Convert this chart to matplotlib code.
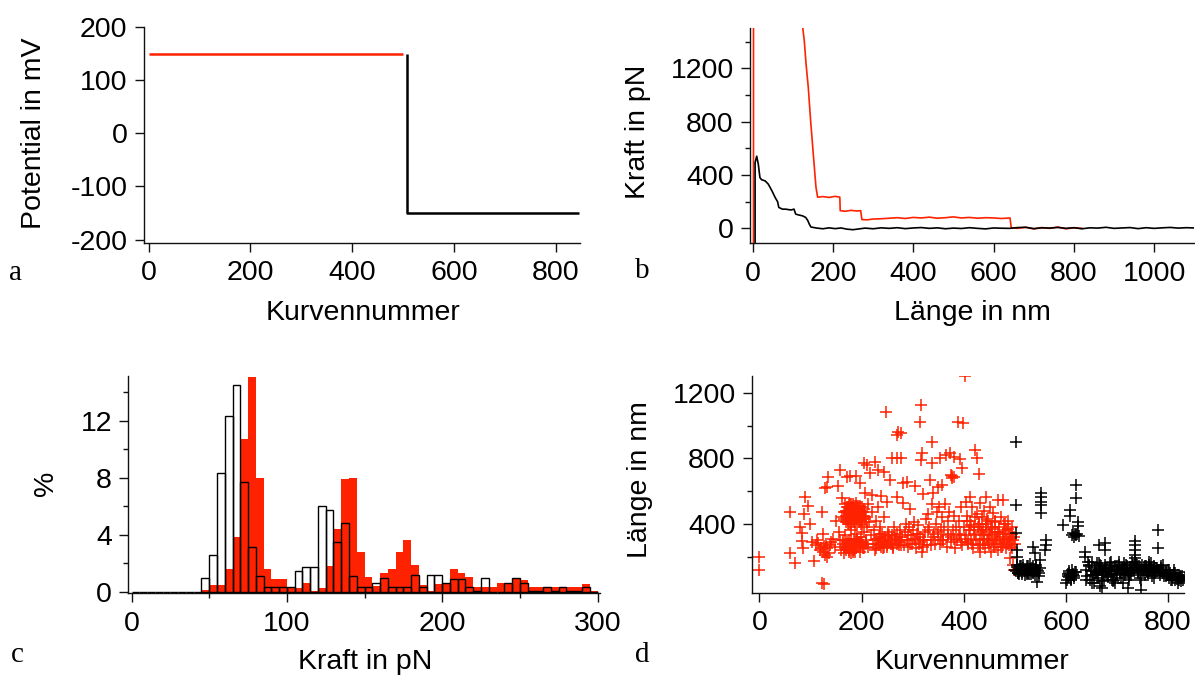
import numpy as np
import matplotlib
matplotlib.use("Agg")
import matplotlib.pyplot as plt
from matplotlib.ticker import MultipleLocator, FixedLocator

# ---------------------------------------------------------------- data
# (a) applied potential per curve number
pot_pos_n = [0, 500]
pot_pos_mv = [150, 150]
pot_neg_n = [508, 508, 846]
pot_neg_mv = [150, -150, -150]

# (b) two single force-distance retract curves
force_red_nm = [2, 2, 118, 124.5, 128.6, 133, 138.5, 144.3, 150.9, 157.6, 161.7, 175, 190, 205,
                217, 218, 230, 245, 260, 269, 272, 285, 300, 320, 340, 360, 380, 400, 420, 440,
                460, 480, 500, 520, 540, 560, 580, 600, 620, 641, 644, 660, 680, 700, 720, 740,
                760, 780, 800, 820]
force_red_pn = [-130, 1900, 1900, 1509, 1404, 1230, 1056, 807, 558, 309, 234, 238, 232, 240,
                234, 133, 128, 135, 130, 133, 66, 64, 70, 72, 76, 80, 74, 82, 78, 84,
                76, 80, 86, 78, 82, 76, 80, 78, 74, 78, 5, 0, 8, -4, 6, 0,
                10, -3, 4, 0]
force_black_nm = [6, 6, 10, 14, 18, 22, 31, 39, 48, 56, 62, 65, 70, 74, 82, 95, 103, 107, 115,
                  124, 132, 137, 141, 145, 160, 175, 190, 205, 220, 235, 250, 265, 280, 300,
                  320, 340, 360, 380, 400, 420, 440, 460, 480, 500, 520, 540, 560, 580, 600,
                  620, 640, 660, 680, 700, 720, 740, 760, 780, 800, 820, 840, 860, 880, 900,
                  920, 940, 960, 980, 1000, 1020, 1040, 1060, 1080, 1100]
force_black_pn = [-130, 493, 541, 481, 381, 365, 356, 331, 281, 231, 200, 157, 150, 144, 144,
                  138, 144, 107, 100, 94, 82, 60, 32, 10, 2, -3, 4, -2, 3, -6, -10, -4, 2, -3,
                  4, 0, 5, -2, 3, 6, 0, 4, -3, 2, -1, 5, 0, -4, 3, 1, 0, 6, 8, -2, 4, 2, 7, 0,
                  5, -3, 4, 2, 8, 0, 3, 6, -2, 5, 0, 4, 7, 2, 5, 3]

# (c) rupture force histograms, 5 pN bins from 0 to 300 pN (in %)
bin_edges = list(range(0, 300, 5))
hist_red = [0, 0, 0, 0, 0, 0, 0, 0, 0,
            0.1, 0.45, 0.45, 1.6, 3.8, 10.7, 15.1, 8.0, 1.6, 0.85, 0.85,
            0.35, 0.25, 0.6, 0.05, 0.25, 1.8, 4.4, 7.9, 8.0, 2.8,
            1.0, 0.4, 1.3, 1.6, 2.8, 3.6, 1.9, 0.45, 0.05, 0.5,
            0.55, 1.6, 1.3, 1.05, 0.35, 0.35, 0.35, 0.6, 0.6, 0.85,
            0.8, 0.3, 0.3, 0.3, 0.3, 0.3, 0.3, 0.3, 0.5, 0.05]
hist_black = [0, 0, 0, 0, 0, 0, 0, 0, 0,
              0.93, 2.6, 8.3, 12.3, 14.5, 7.7, 3.1, 1.1, 0.35, 0.35, 0.35,
              0.35, 1.45, 1.7, 1.7, 6.0, 5.7, 3.5, 4.8, 1.1, 0.35,
              0.35, 0.6, 0.95, 0.35, 0.35, 0.35, 1.15, 0.35, 1.15, 1.15,
              0.6, 0.9, 0.9, 0.35, 0.05, 0.95, 0, 0, 0.6, 0.95,
              0.6, 0.05, 0.05, 0.35, 0.05, 0.35, 0.05, 0.05, 0.35, 0]

# (d) rupture length per curve number (+150 mV: red, -150 mV: black)
red_curve = [0, 0, 60, 60, 70,
             80, 83, 83, 86, 88, 89, 96, 99, 102, 106, 110, 112, 115, 118, 120, 122, 124, 122, 127,
             125, 126, 128, 129, 130, 132, 132, 133, 135, 136, 138, 140,
             145, 148, 150, 153, 155, 157, 158, 160, 161, 162, 164, 165, 166, 168, 170, 171, 172,
             173, 174, 175, 176, 177, 178, 179, 180, 181, 182, 183, 184, 185, 186, 187, 188, 189,
             190, 190, 191, 192, 193, 194, 195, 196, 197, 198, 199, 200, 200,
             202, 204, 205, 206, 207, 207, 208, 210, 211, 212, 213, 215, 217, 218, 220, 221, 222,
             224, 226, 227, 228, 230, 232, 233, 234, 236, 238, 239, 240, 241, 243, 243, 244, 246,
             248, 249, 250, 252, 254, 256, 257, 259, 260,
             262, 264, 266, 269, 269, 269, 270, 272, 273, 275, 276, 278, 278, 280, 281, 282, 283,
             285, 286, 288, 289, 290, 292, 295, 296, 298, 300, 302, 304, 305, 307, 309, 310, 312,
             314, 315, 317, 317, 318, 319, 320, 321, 322, 324, 326,
             328, 330, 332, 334, 335, 337, 337, 338, 340, 341, 343, 345, 347, 349, 350, 352, 353,
             354, 356, 357, 358, 360, 362, 364, 366, 367, 369, 370, 372, 373, 375, 376, 377, 378,
             379, 380, 380, 381, 383, 385, 387, 389, 390, 392, 393, 395, 396, 397, 399, 400,
             402, 403, 405, 406, 408, 410, 412, 413, 415, 417, 418, 420, 422, 423, 425, 426, 427,
             429, 430, 431, 432, 432, 434, 436, 437, 439, 440, 441, 443, 444, 445, 447, 449, 450,
             452, 453, 455, 456, 458, 459, 461, 462, 464, 465, 467, 468, 470, 471, 473, 474, 476,
             477, 479, 480, 482, 483, 485, 486, 488, 490, 491, 492, 494, 495, 497, 498, 499, 500,
             178, 182, 186, 190, 194, 198, 175, 184, 192, 200, 180, 188, 196,
             170, 176, 184, 190, 196, 202, 172, 180, 188, 198, 168, 186, 194,
             166, 168, 170, 172, 174, 176, 178, 180, 182, 184, 186, 188, 190, 192, 194, 196, 198,
             200, 202, 204, 206,
             167, 169, 171, 173, 175, 177, 179, 181, 183, 185, 187, 189, 191, 193, 195, 197, 199,
             201, 203, 205,
             164, 168, 172, 176, 180, 184, 188, 192, 196, 200, 204, 208,
             226, 230, 234, 238, 242, 246, 250, 254, 258, 262, 266, 270, 274, 278,
             228, 236, 244, 252, 260, 268, 276,
             404, 408, 412, 416, 420, 424, 428, 432, 436, 440, 444, 448, 452, 456, 460, 464, 468,
             472, 476, 480, 484, 488, 492, 496,
             406, 414, 422, 430, 438, 446, 454, 462, 470, 478, 486, 494,
             290, 300, 310, 320, 330, 340, 350, 360, 370, 380, 390, 295, 315, 335, 355, 375, 395]
red_length = [196, 119, 474, 225, 164,
              383, 342, 298, 251, 460, 566, 509, 399, 292, 176, 270, 300, 285, 240, 255, 474, 338, 37, 31,
              230, 265, 210, 617, 280, 623, 200, 250, 688, 225, 270, 290,
              310, 260, 420, 631, 350, 729, 300, 240, 556, 440, 280, 470, 220, 330, 480, 684, 260,
              500, 400, 300, 230, 692, 450, 360, 520, 270, 420, 240, 490, 310, 460, 380, 280, 530,
              692, 250, 440, 340, 510, 290, 470, 230, 647, 400, 320, 393, 500,
              270, 769, 350, 440, 590, 444, 300, 759, 380, 520, 260, 410, 708, 330, 576, 470, 280,
              360, 779, 240, 420, 310, 500, 729, 270, 380, 300, 570, 340, 250, 718, 444, 290, 320,
              1080, 535, 260, 350, 300, 668, 280, 800, 330,
              250, 380, 300, 800, 942, 566, 340, 962, 270, 360, 300, 956, 800, 320, 647, 529, 270,
              350, 400, 657, 300, 260, 380, 489, 330, 280, 360, 410, 631, 300, 250, 340, 390, 280,
              1019, 320, 1125, 790, 230, 830, 260, 582, 300, 350, 430,
              270, 460, 380, 667, 300, 901, 773, 520, 586, 340, 280, 400, 470, 320, 627, 500, 800,
              280, 360, 637, 440, 300, 380, 520, 820, 260, 420, 330, 470, 834, 290, 698, 690, 680,
              360, 810, 688, 450, 250, 380, 300, 1023, 420, 794, 340, 500, 739, 270, 1013, 380,
              1302, 310, 536, 450, 280, 360, 562, 420, 300, 500, 250, 380, 850, 330, 800, 460, 270,
              400, 704, 310, 526, 230, 360, 440, 280, 330, 480, 250, 562, 380, 300, 420, 270, 340,
              500, 230, 380, 300, 469, 260, 350, 420, 280, 320, 546, 240, 380, 300, 440, 260, 546,
              340, 290, 400, 250, 360, 310, 420, 270, 340, 190, 300, 380, 250, 150, 320, 120, 280,
              430, 470, 410, 500, 450, 420, 400, 520, 430, 480, 460, 440, 510,
              240, 270, 230, 260, 290, 250, 280, 220, 300, 270, 250, 240, 290,
              430, 470, 450, 500, 420, 460, 520, 440, 490, 470, 510, 430, 460, 500, 440, 480, 420,
              470, 450, 490, 430,
              520, 410, 480, 440, 530, 460, 400, 500, 450, 420, 470, 510, 440, 480, 410, 500, 460,
              430, 470, 450,
              300, 260, 290, 240, 310, 270, 230, 300, 260, 290, 250, 280,
              300, 280, 320, 260, 310, 290, 270, 330, 300, 260, 320, 280, 300, 270,
              250, 340, 260, 330, 280, 310, 290,
              330, 290, 360, 280, 340, 300, 380, 270, 350, 310, 400, 290, 330, 370, 280, 310, 350,
              260, 300, 340, 280, 320, 260, 300,
              420, 390, 440, 400, 360, 430, 380, 410, 350, 400, 370, 340,
              330, 310, 340, 300, 360, 320, 350, 300, 340, 310, 330, 280, 290, 270, 300, 320, 290]
black_curve = [502, 502, 502, 504, 504, 500, 503, 505, 507, 509, 511, 513, 515, 517, 519, 521, 523,
               525, 527, 529, 531, 533, 535, 536, 538, 539, 540, 542, 543, 545, 547, 549, 549,
               551, 551, 551, 551, 551, 559, 562, 562,
               595, 601, 603, 605, 606, 607, 608, 608, 609, 610, 611, 612, 613, 614, 615, 616, 617,
               618, 620, 620, 620, 622, 624, 624, 625,
               637, 637, 640, 642, 645, 647, 649, 651, 653, 655, 657, 659, 661, 663, 665, 665, 667,
               669, 670, 671, 673, 675, 676, 676, 677, 679, 681, 683, 685, 687, 689, 691, 693, 695,
               696, 697, 699, 701, 703, 705, 707, 709, 711, 713, 715, 717, 719, 721, 722, 723, 725,
               727, 729, 731, 733, 735, 735, 735, 735, 736, 737, 739, 741, 743, 745, 747, 748, 749,
               751, 753, 755, 757, 759, 761, 763, 765, 767, 769, 771, 773, 775, 777, 779, 781, 781,
               783, 785, 787, 789, 791, 793, 795, 797, 799, 801, 803, 805, 807, 809, 811, 813, 815,
               817, 819, 821, 823, 825, 827, 830, 833, 836,
               506, 512, 518, 524, 530, 536, 660, 672, 684, 700, 712, 726, 742, 758, 770, 790, 804,
               505, 508, 511, 514, 517, 520, 523, 526, 529, 532, 535, 538, 541, 544, 547,
               604, 607, 610, 613, 616, 619,
               640, 646, 652, 658, 664, 670, 676, 682, 688, 694, 700, 706, 712, 718, 724, 730,
               736, 742, 748, 754, 760, 766, 772, 778, 784, 790, 796, 802, 808, 814, 820, 826,
               643, 655, 667, 679, 691, 703, 715, 727, 739, 751, 763, 775, 787, 799, 811, 823]
black_length = [901, 515, 342, 241, 200, 120, 110, 135, 100, 125, 115, 140, 95, 130, 110, 120, 105,
                140, 95, 125, 110, 130, 100, 261, 120, 220, 90, 135, 48, 110, 80, 180, 130,
                586, 562, 536, 515, 468, 241, 302, 271,
                393, 37, 60, 95, 75, 110, 485, 445, 85, 65, 120, 330, 95, 345, 80, 320, 340,
                105, 637, 556, 330, 340, 413, 387, 325,
                230, 200, 120, 80, 150, 60, 110, 170, 90, 40, 130, 100, 160, 70, 271, 120, 20,
                145, 7, 90, 110, 60, 281, 241, 150, 100, 130, 75, 120, 160, 95, 130, 50, 110,
                37, 140, 90, 120, 150, 100, 70, 130, 110, 160, 90, 120, 140, 100, 7, 60, 130,
                110, 170, 150, 120, 298, 271, 241, 210, 190, 160, 130, 100, 140, 70, 120, -3, 150,
                110, 130, 90, 140, 120, 100, 150, 110, 130, 80, 120, 140, 100, 130, 110, 363, 251,
                120, 90, 130, 100, 120, 80, 110, 90, 120, 70, 100, 60, 90, 75, 100, 55, 80,
                65, 90, 60, 75, 50, 80, 55, 70, 109,
                100, 125, 110, 95, 120, 105, 90, 105, 115, 95, 125, 100, 115, 105, 120, 100, 85,
                150, 95, 140, 105, 150, 90, 145, 100, 155, 95, 140, 110, 150, 120, 100,
                80, 100, 60, 90, 70, 105,
                60, 140, 40, 100, 160, 50, 130, 80, 170, 60, 140, 100, 40, 150, 80, 120,
                170, 110, 60, 140, 90, 160, 70, 130, 100, 150, 80, 120, 60, 100, 40, 70,
                170, 90, 150, 110, 60, 170, 130, 90, 150, 120, 170, 110, 140, 90, 120, 80]

# ---------------------------------------------------------------- style
RED = "#ff2200"
INK = "#111111"
W, H = 1195, 677
FS = 20.5
plt.rcParams["font.family"] = ["Liberation Sans", "DejaVu Sans"]
plt.rcParams["font.size"] = FS
plt.rcParams["axes.unicode_minus"] = False

fig = plt.figure(figsize=(W / 100, H / 100), dpi=100)


def px_axes(left, top, right, bottom):
    return fig.add_axes([left / W, 1 - bottom / H, (right - left) / W, (bottom - top) / H])


def style(ax):
    for side in ("top", "right"):
        ax.spines[side].set_visible(False)
    for side in ("left", "bottom"):
        ax.spines[side].set_linewidth(1.0)
        ax.spines[side].set_color(INK)
    ax.tick_params(which="major", direction="out", length=6.5, width=1.0, color=INK,
                   labelsize=FS, labelcolor="black")
    ax.tick_params(which="minor", direction="out", length=3.5, width=1.0, color=INK)
    ax.tick_params(axis="x", which="major", pad=6)
    ax.tick_params(axis="y", which="major", pad=5)
    ax.patch.set_alpha(0)


def label(x, y, s, rot=0, **kw):
    fig.text(x / W, 1 - y / H, s, ha="center", va="center", rotation=rot, fontsize=FS, **kw)


def panel_letter(x, y, s):
    fig.text(x / W, 1 - y / H, s, ha="center", va="center", fontsize=21,
             family=["Liberation Serif", "DejaVu Serif"])


# (a) ------------------------------------------------------------------
ax_a = px_axes(143.5, 27.3, 579.8, 242.7)
ax_a.plot(pot_pos_n, pot_pos_mv, color=RED, lw=1.8, solid_capstyle="butt")
ax_a.plot(pot_neg_n, pot_neg_mv, color="black", lw=1.8, solid_capstyle="butt")
ax_a.set_xlim(-10, 847)
ax_a.set_ylim(-206, 200)
ax_a.xaxis.set_major_locator(MultipleLocator(200))
ax_a.yaxis.set_major_locator(MultipleLocator(100))
style(ax_a)
label(363, 313, "Kurvennummer")
label(34, 133, "Potential in mV", rot=90)
panel_letter(16, 273, "a")

# (b) ------------------------------------------------------------------
ax_b = px_axes(749.6, 28.3, 1193.5, 243.3)
ax_b.plot(force_red_nm, force_red_pn, color=RED, lw=1.2)
ax_b.plot(force_black_nm, force_black_pn, color="black", lw=1.2)
ax_b.set_xlim(-7.7, 1098)
ax_b.set_ylim(-112, 1500)
ax_b.xaxis.set_major_locator(MultipleLocator(200))
ax_b.yaxis.set_major_locator(FixedLocator([0, 400, 800, 1200]))
ax_b.yaxis.set_minor_locator(FixedLocator([200, 600, 1000, 1400]))
style(ax_b)
label(972, 313, "Länge in nm")
label(638, 132, "Kraft in pN", rot=90)
panel_letter(642, 271, "b")

# (c) ------------------------------------------------------------------
ax_c = px_axes(128, 376, 600, 593.3)
ax_c.bar(bin_edges, hist_red, width=5, align="edge", color=RED, linewidth=0, zorder=1)
ax_c.bar(bin_edges, hist_black, width=5, align="edge", fill=False, edgecolor="black",
         linewidth=1.0, zorder=2)
ax_c.set_xlim(-2.3, 301.6)
ax_c.set_ylim(-0.12, 15.14)
ax_c.xaxis.set_major_locator(MultipleLocator(100))
ax_c.xaxis.set_minor_locator(FixedLocator([50, 150, 250]))
ax_c.yaxis.set_major_locator(MultipleLocator(4))
ax_c.yaxis.set_minor_locator(FixedLocator([2, 6, 10, 14]))
style(ax_c)
label(365, 662, "Kraft in pN")
label(46, 483, "%", rot=90)
panel_letter(17, 655, "c")

# (d) ------------------------------------------------------------------
ax_d = px_axes(751.8, 376, 1184.4, 592.7)
ax_d.plot(red_curve, red_length, ls="none", marker="+", ms=8, mew=1.1, color=RED)
ax_d.plot(black_curve, black_length, ls="none", marker="+", ms=8, mew=1.1, color="black")
ax_d.set_xlim(-14.9, 832)
ax_d.set_ylim(-20, 1302)
ax_d.xaxis.set_major_locator(MultipleLocator(200))
ax_d.yaxis.set_major_locator(FixedLocator([400, 800, 1200]))
ax_d.yaxis.set_minor_locator(FixedLocator([200, 600, 1000]))
style(ax_d)
label(972, 662, "Kurvennummer")
label(640, 480, "Länge in nm", rot=90)
panel_letter(642, 655, "d")

fig.savefig("out.png", dpi=100)
